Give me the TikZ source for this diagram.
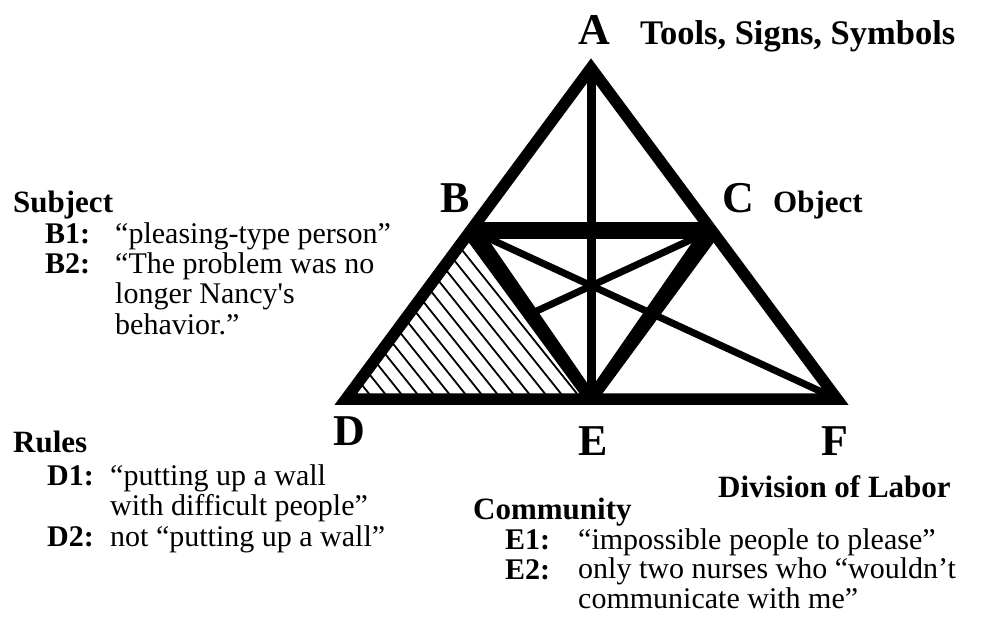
\documentclass[tikz,border=0pt]{standalone}
\usepackage{fontspec}
\setmainfont{Liberation Serif}
\usetikzlibrary{positioning,calc}
\tikzset{
  vtx/.style={font=\fontsize{44}{44}\selectfont\bfseries, inner sep=0pt, anchor=base west},
  hd/.style={font=\fontsize{31}{31}\selectfont\bfseries, inner sep=0pt, anchor=base west},
  tg/.style={font=\fontsize{30}{30}\selectfont\bfseries, inner sep=0pt, anchor=base west},
  tx/.style={font=\fontsize{30}{30}\selectfont, inner sep=0pt, anchor=base west, align=left},
  rim/.style={line width=11.5pt, line join=miter},
  bar/.style={line width=17pt},
  leg/.style={fill=black},
  spoke/.style={line width=9pt},
  diag/.style={line width=7pt},
  hatch/.style={line width=1.8pt}
}

\begin{document}
\begin{tikzpicture}[x=1pt,y=-1pt]
\useasboundingbox (0,0) rectangle (984,617);
% corners of the triangle
\coordinate (A) at (591,68);
\coordinate (D) at (346,399);
\coordinate (F) at (837,399);
\coordinate (E) at (591,399);
\coordinate (B) at ($(A)!0.49!(D)$);
\coordinate (C) at ($(A)!0.49!(F)$);
\coordinate (X) at (intersection of C--D and B--E);
% hatched part
\begin{scope}
\clip (B) -- (D) -- (E) -- cycle;
\foreach \i in {150,166,...,620} \draw[hatch] (\i,200) -- ++(176,220);
\end{scope}
\draw[diag] (C) -- (X);
\draw[diag] (B) -- (F);
\draw[spoke] (A) -- (E);
% legs, wider at the top
\fill[leg] ($(B)!9pt!90:(E)$) -- ($(E)!6pt!-90:(B)$) -- ($(E)!6pt!90:(B)$) -- ($(B)!9pt!-90:(E)$) -- cycle;
\fill[leg] ($(C)!9pt!90:(E)$) -- ($(E)!6pt!-90:(C)$) -- ($(E)!6pt!90:(C)$) -- ($(C)!9pt!-90:(E)$) -- cycle;
\draw[bar] (B) -- (C);
\draw[rim] (A) -- (D) -- (F) -- cycle;
% corner letters
\node[vtx] (la) at (578,45) {A};
\node[vtx] (lb) at (440,213) {B};
\node[vtx] (lc) at (722,213) {C};
\node[vtx] (ld) at (333,445) {D};
\node[vtx] (le) at (578,455) {E};
\node[vtx] (lf) at (821,455) {F};
% labels (a multi-line node sits on its last line)
\node[hd, font=\fontsize{34.5}{34.5}\selectfont\bfseries] (tools) at (640,45) {Tools, Signs, Symbols};
\node[hd] (obj) at (773,213) {Object};
\node[hd] (div) at (718,497) {Division of Labor};
\node[hd] (subj) at (13,213) {Subject};
\node[tg] (b1) at (45,244) {B1:};
\node[tx] (b1t) at (115,244) {“pleasing-type person”};
\node[tg] (b2) at (45,274) {B2:};
\node[tx] (b2t) at (115,334) {“The problem was no\\longer Nancy\textquotesingle s\\behavior.”};
\node[hd] (rules) at (13,452) {Rules};
\node[tg] (d1) at (47,485) {D1:};
\node[tx] (d1t) at (110,515) {“putting up a wall\\with difficult people”};
\node[tg] (d2) at (47,546) {D2:};
\node[tx] (d2t) at (110,546) {not “putting up a wall”};
\node[hd] (comm) at (473,519) {Community};
\node[tg] (e1) at (505,549) {E1:};
\node[tx] (e1t) at (578,549) {“impossible people to please”};
\node[tg] (e2) at (505,579) {E2:};
\node[tx] (e2t) at (578,608) {only two nurses who “wouldn’t\\communicate with me”};
\end{tikzpicture}
\end{document}
